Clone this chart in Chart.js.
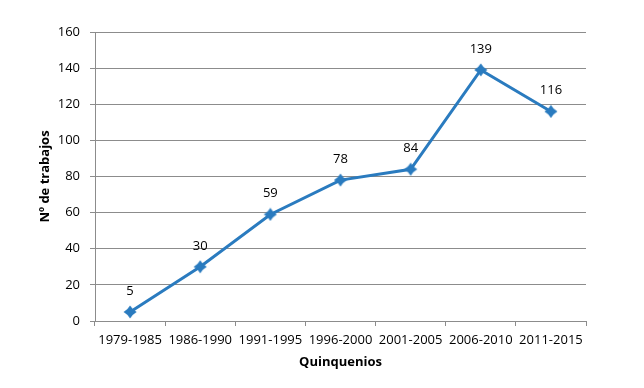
<!DOCTYPE html>
<html>
<head>
<meta charset="utf-8">
<script src="https://cdn.jsdelivr.net/npm/chart.js@4/dist/chart.umd.min.js"></script>
<style>
    html, body { margin: 0; padding: 0; background: #fff; }
    #wrap { width: 644px; height: 388px; position: relative; }
</style>
</head>
<body>
<div id="wrap"><canvas id="chart"></canvas></div>
<script>
/* Datos del grafico */
const periods = ['1979-1985', '1986-1990', '1991-1995', '1996-2000', '2001-2005', '2006-2010', '2011-2015'];
const works = [5, 30, 59, 78, 84, 139, 116];
const yTicks = [0, 20, 40, 60, 80, 100, 120, 140, 160];

const LINE_COLOR = '#2A7BBF';
const GRID_COLOR = '#8C8C8C';
const FONT = "'Open Sans', sans-serif";

// marcador: rombo con lados concavos, como el de Excel
function makeMarker() {
    const c = document.createElement('canvas');
    c.width = 14; c.height = 14;
    const g = c.getContext('2d');
    const m = 7, r = 6.5, k = 2.4;
    g.fillStyle = LINE_COLOR;
    g.beginPath();
    g.moveTo(m, m - r);
    g.quadraticCurveTo(m + k, m - k, m + r, m);
    g.quadraticCurveTo(m + k, m + k, m, m + r);
    g.quadraticCurveTo(m - k, m + k, m - r, m);
    g.quadraticCurveTo(m - k, m - k, m, m - r);
    g.closePath();
    g.fill();
    return c;
}

// etiquetas de datos encima de cada punto
const dataLabels = {
    id: 'dataLabels',
    afterDatasetsDraw(chart) {
        const ctx = chart.ctx;
        const meta = chart.getDatasetMeta(0);
        ctx.save();
        ctx.font = '13px ' + FONT;
        ctx.fillStyle = '#000';
        ctx.textAlign = 'center';
        ctx.textBaseline = 'middle';
        meta.data.forEach((pt, i) => {
            ctx.fillText(String(works[i]), pt.x, pt.y - 21);
        });
        ctx.restore();
    }
};

new Chart(document.getElementById('chart'), {
    type: 'line',
    data: {
        labels: periods,
        datasets: [{
            label: 'Nº de trabajos',
            data: works,
            borderColor: LINE_COLOR,
            backgroundColor: LINE_COLOR,
            borderWidth: 3,
            pointStyle: makeMarker(),
            tension: 0,
        }],
    },
    options: {
        responsive: true,
        maintainAspectRatio: false,
        animation: false,
        layout: { padding: { left: 0, right: 58, top: 32, bottom: 0 } },
        plugins: {
            legend: { display: false },
            tooltip: { enabled: false },
        },
        scales: {
            x: {
                offset: true,
                grid: {
                    offset: true,
                    drawOnChartArea: false,
                    drawTicks: true,
                    tickLength: 5,
                    color: GRID_COLOR,
                },
                border: { display: true, color: GRID_COLOR },
                ticks: { color: '#000', font: { family: FONT, size: 13 }, padding: 6, maxRotation: 0 },
                title: {
                    display: true,
                    text: 'Quinquenios',
                    color: '#000',
                    font: { family: FONT, size: 13, weight: 'bold' },
                    padding: { top: 0, bottom: 18 },
                },
                afterFit(scale) { scale.height = 67; },
            },
            y: {
                min: 0,
                max: 160,
                afterBuildTicks(scale) { scale.ticks = yTicks.map(v => ({ value: v })); },
                grid: {
                    color: GRID_COLOR,
                    drawTicks: true,
                    tickLength: 5,
                },
                border: { display: true, color: GRID_COLOR },
                ticks: { color: '#000', font: { family: FONT, size: 13 }, padding: 10 },
                title: {
                    display: true,
                    text: 'Nº de trabajos',
                    color: '#000',
                    font: { family: FONT, size: 13, weight: 'bold' },
                    padding: { top: 37, bottom: 0 },
                },
                afterFit(scale) { scale.width = 95; },
            },
        },
    },
    plugins: [dataLabels],
});
</script>
</body>
</html>
